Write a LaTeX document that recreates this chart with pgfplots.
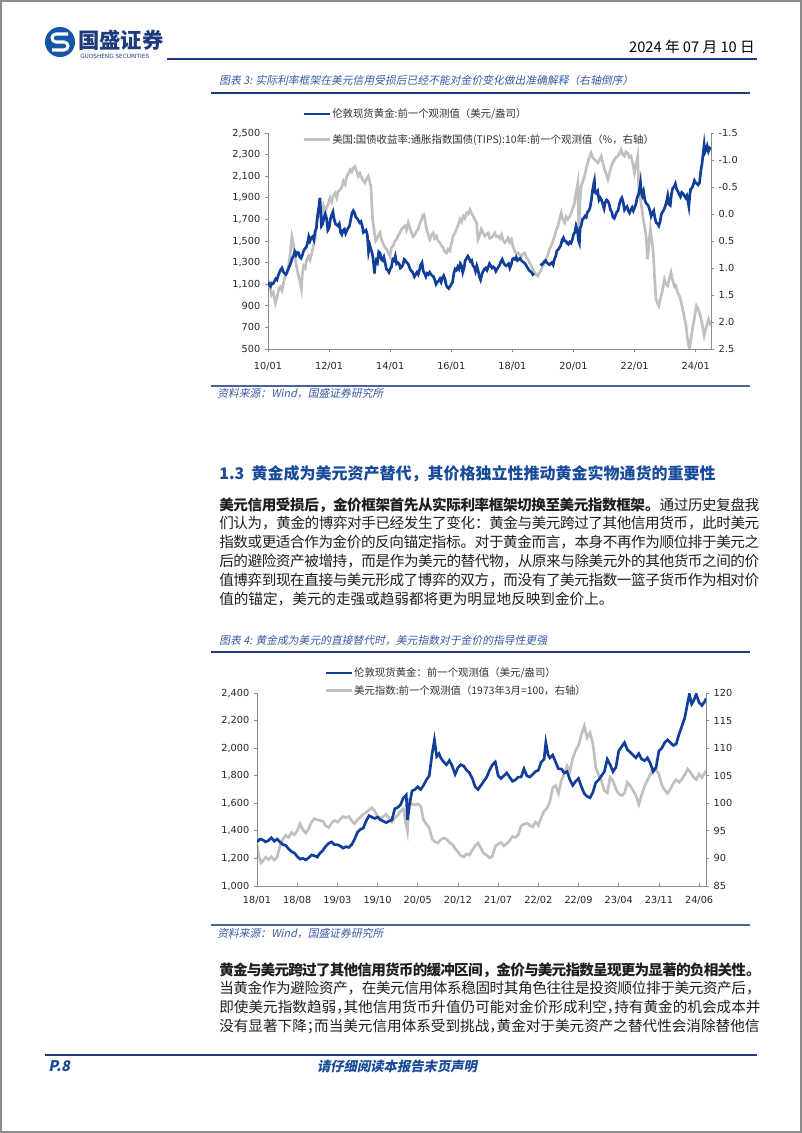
\documentclass[border=0pt]{standalone}
\usepackage{pgfplots}
\pgfplotsset{compat=1.18}
\usepackage{fontspec}
\setmainfont{Noto Sans CJK SC}
\newfontfamily\tickfont{DejaVu Sans}
\newfontfamily\cjkit{Noto Sans CJK SC}[FakeSlant=0.2]
\XeTeXlinebreaklocale "zh"
\XeTeXlinebreakskip=0pt plus 1.5pt minus 0.65pt
\newcommand{\hp}[1]{\hbox to 0.5em{#1\hss}}
\definecolor{gblue}{RGB}{16,62,152}
\definecolor{tgray}{RGB}{192,192,192}
\definecolor{axgray}{RGB}{140,140,140}
\definecolor{navy}{RGB}{30,60,125}
\definecolor{tblue}{RGB}{55,90,165}
\definecolor{hblue}{RGB}{25,75,155}
\definecolor{logoblue}{RGB}{20,85,165}
\pgfplotsset{pgbase/.style={scale only axis,
  axis line style={axgray,line width=0.6pt,-},
  tick style={axgray,line width=0.6pt},
  major tick length=2.25pt, tick align=outside,
  tick label style={font=\tickfont\fontsize{7.3}{8}\selectfont, text=black!85},
  xticklabel style={yshift=-4pt},
  /pgf/number format/assume math mode=true,
  scaled y ticks=false, scaled x ticks=false, clip=true}}
\begin{document}
\begin{tikzpicture}
\useasboundingbox (0pt,0pt) rectangle (601.5pt,-849.75pt);
\begin{scope}[x=0.75pt,y=-0.75pt]
\fill[white] (0,0) rectangle (802,1133);
\draw[black!45,line width=1.4pt] (1,1) rectangle (801,1132);
% logo
\fill[logoblue] (60,42) circle (15);
\draw[white,line width=2.3pt] (68,34) -- (56,34) arc[start angle=270,end angle=90,radius=4] -- (64,42) arc[start angle=270,end angle=450,radius=4] -- (52,50);
\node[anchor=west,font=\bfseries\fontsize{16}{18}\selectfont,text=navy,inner sep=0] at (78,40) {国盛证券};
\node[anchor=west,font=\tickfont\fontsize{4.3}{5}\selectfont,text=navy,inner sep=0] at (80,56) {GUOSHENG SECURITIES};
\node[anchor=base east,font=\fontsize{11}{12}\selectfont,inner sep=0] at (755,52) {2024 年 07 月 10 日};
\draw[navy,line width=1.8pt] (167,59) -- (757,59);
% chart 3 title
\node[anchor=base west,font=\cjkit\fontsize{8.1}{9}\selectfont,text=tblue,inner sep=0] at (219,84) {图表 3: 实际利率框架在美元信用受损后已经不能对金价变化做出准确解释（右轴倒序）};
\draw[navy,line width=1.5pt] (211,92.5) -- (750,92.5);
\draw[navy!80,line width=1.1pt] (211,386) -- (750,386);
\node[anchor=base west,font=\cjkit\fontsize{8.1}{9}\selectfont,text=tblue,inner sep=0] at (217,397) {资料来源：Wind，国盛证券研究所};
% section
\node[anchor=base west,font=\bfseries\fontsize{12}{14}\selectfont,text=hblue,inner sep=0] at (219,479) {1.3\hspace{0.45em}黄金成为美元资产替代，其价格独立性推动黄金实物通货的重要性};
\node[anchor=base west,text width=405pt,align=justify,inner sep=0,text=black!88,font=\fontsize{10.95}{14.1}\selectfont] at (219,510) {\textbf{美元信用受损后，金价框架首先从实际利率框架切换至美元指数框架。}通过历史复盘我\linebreak
们认为，黄金的博弈对手已经发生了变化：黄金与美元跨过了其他信用货币，此时美元\linebreak
指数或更适合作为金价的反向锚定指标。对于黄金而言，本身不再作为顺位排于美元之\linebreak
后的避险资产被增持，而是作为美元的替代物，从原来与除美元外的其他货币之间的价\linebreak
值博弈到现在直接与美元形成了博弈的双方，而没有了美元指数一篮子货币作为相对价\linebreak
值的锚定，美元的走强或趋弱都将更为明显地反映到金价上。};
% chart 4 title
\node[anchor=base west,font=\cjkit\fontsize{8.1}{9}\selectfont,text=tblue,inner sep=0] at (219,644) {图表 4: 黄金成为美元的直接替代时，美元指数对于金价的指导性更强};
\draw[navy,line width=1.5pt] (211,652) -- (750,652);
\draw[navy!80,line width=1.1pt] (211,925) -- (750,925);
\node[anchor=base west,font=\cjkit\fontsize{8.1}{9}\selectfont,text=tblue,inner sep=0] at (217,937) {资料来源：Wind，国盛证券研究所};
\node[anchor=base west,text width=406pt,align=justify,inner sep=0,text=black!88,font=\fontsize{10.95}{14.1}\selectfont] at (219,975) {\textbf{黄金与美元跨过了其他信用货币的缓冲区间，金价与美元指数呈现更为显著的负相关性。}\linebreak
当黄金作为避险资产，在美元信用体系稳固时其角色往往是投资顺位排于美元资产后，\linebreak
即使美元指数趋弱\hp{，}其他信用货币升值仍可能对金价形成利空\hp{，}持有黄金的机会成本并\linebreak
没有显著下降\hp{；}而当美元信用体系受到挑战\hp{，}黄金对于美元资产之替代性会消除替他信};
% footer
\draw[navy,line width=2pt] (45,1055) -- (757,1055);
\node[anchor=base west,font=\cjkit\bfseries\fontsize{11}{12}\selectfont,text=hblue,inner sep=0] at (48,1071) {P.8};
\node[anchor=base,font=\cjkit\bfseries\fontsize{10}{12}\selectfont,text=hblue,inner sep=0] at (397,1071) {请仔细阅读本报告末页声明};
\end{scope}

% ---------------- chart 3 -----------------
\begin{axis}[pgbase, at={(201pt,-261.75pt)}, anchor=south west,
  width=332.25pt, height=162pt, xmin=0, xmax=174, ymin=-1.5, ymax=2.5, y dir=reverse,
  axis y line*=right, axis x line=none,
  ytick={-1.5,-1.0,-0.5,0,0.5,1.0,1.5,2.0,2.5},
  yticklabel style={/pgf/number format/fixed,/pgf/number format/fixed zerofill,/pgf/number format/precision=1}]
\addplot[tgray,line width=2pt] coordinates {(0,1.40)(0.7,1.30)(1.4,1.50)(2.1,1.45)(2.9,1.65)(3.5,1.55)(4.2,1.40)(4.8,1.35)(5.5,1.42)(6.2,1.25)(6.8,1.15)(7.5,1.10)(8.1,0.96)(8.8,0.70)(9.4,0.42)(10.0,0.55)(10.7,0.84)(11.3,1.00)(12.0,1.15)(12.6,1.25)(13.1,1.38)(13.5,1.10)(14.0,0.96)(14.6,1.00)(15.2,0.85)(15.9,0.78)(16.5,0.85)(17.2,0.72)(17.8,0.60)(18.5,0.47)(19.2,0.10)(19.8,0.05)(20.5,-0.02)(21.1,0.08)(21.8,-0.15)(22.4,-0.05)(23.1,-0.12)(23.7,-0.20)(24.4,-0.30)(25.0,-0.22)(25.7,-0.35)(26.4,-0.39)(27.0,-0.30)(27.6,-0.42)(28.3,-0.45)(29.0,-0.50)(29.6,-0.61)(30.3,-0.55)(31.0,-0.70)(31.6,-0.75)(32.3,-0.82)(32.9,-0.78)(33.5,-0.85)(34.2,-0.88)(34.8,-0.80)(35.5,-0.70)(36.1,-0.75)(36.8,-0.67)(37.4,-0.62)(38.1,-0.58)(38.7,-0.65)(39.4,-0.70)(39.9,-0.60)(40.4,-0.52)(40.8,-0.15)(41.1,0.10)(41.5,0.25)(41.8,0.35)(42.3,0.50)(42.7,0.47)(43.3,0.40)(44.0,0.35)(44.6,0.48)(45.3,0.56)(45.9,0.62)(46.6,0.65)(47.2,0.72)(47.9,0.78)(48.5,0.62)(49.2,0.59)(49.8,0.50)(50.5,0.47)(51.1,0.40)(51.8,0.35)(52.5,0.28)(53.1,0.25)(53.8,0.22)(54.4,0.30)(55.1,0.16)(55.7,0.25)(56.4,0.35)(57.0,0.42)(57.7,0.38)(58.3,0.32)(59.0,0.28)(59.6,0.18)(60.3,0.10)(60.8,0.02)(61.3,0.01)(61.8,0.15)(62.3,0.28)(63.0,0.40)(63.6,0.47)(64.3,0.38)(64.9,0.35)(65.5,0.45)(66.2,0.41)(66.8,0.50)(67.5,0.53)(68.1,0.58)(68.8,0.62)(69.4,0.70)(70.1,0.72)(70.7,0.65)(71.4,0.68)(72.0,0.55)(72.7,0.41)(73.4,0.35)(74.1,0.28)(74.7,0.20)(75.4,0.10)(76.0,0.15)(76.7,0.04)(77.3,0.08)(78.0,-0.02)(78.6,0.00)(79.3,-0.08)(79.9,-0.02)(80.6,0.04)(81.2,0.10)(81.9,0.16)(82.5,0.47)(83.1,0.40)(83.8,0.28)(84.5,0.35)(85.2,0.41)(85.8,0.38)(86.5,0.35)(87.1,0.45)(87.8,0.44)(88.4,0.40)(89.1,0.35)(89.7,0.42)(90.4,0.41)(91.0,0.45)(91.7,0.38)(92.3,0.48)(93.0,0.53)(93.6,0.50)(94.3,0.44)(94.9,0.52)(95.6,0.47)(96.2,0.60)(96.9,0.68)(97.5,0.74)(98.2,0.72)(98.8,0.75)(99.5,0.78)(100.1,0.74)(100.8,0.72)(101.4,0.80)(102.1,0.84)(102.7,0.90)(103.4,0.96)(104.0,1.02)(104.7,1.08)(105.3,1.12)(106.0,1.15)(106.7,1.08)(107.4,1.02)(108.0,0.95)(108.7,0.90)(109.3,0.82)(110.0,0.75)(110.6,0.65)(111.3,0.59)(111.9,0.50)(112.6,0.41)(113.2,0.30)(113.9,0.22)(114.5,0.10)(115.2,-0.02)(115.8,0.10)(116.5,0.16)(117.1,0.05)(117.8,0.10)(118.4,0.05)(119.1,-0.02)(119.7,-0.10)(120.4,-0.21)(121.0,-0.40)(121.7,-0.58)(122.1,0.28)(122.5,-0.20)(123.0,-0.52)(123.6,-0.60)(124.3,-0.70)(124.9,-0.82)(125.6,-0.95)(126.2,-1.05)(126.9,-1.13)(127.5,-1.05)(128.2,-1.01)(128.9,-0.98)(129.6,-0.95)(130.2,-1.00)(130.9,-1.07)(131.5,-0.95)(132.2,-0.82)(132.8,-0.75)(133.5,-0.64)(134.1,-0.75)(134.8,-0.88)(135.4,-0.95)(136.1,-1.01)(136.7,-1.05)(137.4,-1.07)(138.0,-1.12)(138.7,-1.19)(139.3,-1.10)(140.0,-1.07)(140.6,-1.15)(141.3,-1.13)(141.9,-1.05)(142.6,-1.07)(143.2,-0.95)(143.9,-0.76)(144.5,-0.90)(145.2,-1.07)(145.6,-0.52)(146.0,-0.35)(146.5,-0.21)(147.0,-0.05)(147.4,0.10)(148.0,0.25)(148.5,0.41)(149.1,0.84)(149.6,0.55)(150.2,0.28)(150.6,0.45)(151.1,0.59)(151.5,0.85)(151.8,1.15)(152.1,1.35)(152.4,1.58)(153.0,1.65)(153.5,1.70)(154.0,1.60)(154.4,1.52)(155.0,1.40)(155.7,1.21)(156.3,1.30)(157.0,1.33)(157.6,1.20)(158.3,1.08)(158.8,1.20)(159.2,1.27)(159.7,1.35)(160.2,1.33)(160.9,1.45)(161.6,1.52)(162.2,1.62)(162.9,1.76)(163.5,1.90)(164.2,2.07)(164.8,2.32)(165.5,2.50)(166.0,2.35)(166.5,2.19)(167.0,2.05)(167.4,1.95)(167.9,1.80)(168.3,1.70)(168.9,1.75)(169.4,1.82)(169.9,1.90)(170.4,2.01)(170.9,2.15)(171.3,2.25)(171.8,2.15)(172.3,2.07)(172.7,2.00)(173.0,1.95)(173.5,2.02)(174.0,2.07)};
\end{axis}
\begin{axis}[pgbase, at={(201pt,-261.75pt)}, anchor=south west,
  width=332.25pt, height=162pt, xmin=0, xmax=174, ymin=500, ymax=2500,
  axis y line*=left, axis x line*=bottom, unbounded coords=jump,
  xtick={0,24,48,72,96,120,144,168},
  xticklabels={10/01,12/01,14/01,16/01,18/01,20/01,22/01,24/01},
  ytick={500,700,900,1100,1300,1500,1700,1900,2100,2300,2500},
  legend style={at={(axis description cs:0.0767,1.12)},anchor=north west,draw=none,fill=none,inner sep=0pt,
    row sep=9pt,font=\fontsize{7.8}{9}\selectfont,text=black!80,nodes={inner sep=1pt}},
  legend cell align=left,
  legend image code/.code={\draw[#1] (0pt,0pt) -- (19.5pt,0pt);}]
\addplot[gblue,line width=2pt] coordinates {(0,1120)(0.5,1095)(1,1080)(1.5,1110)(2,1105)(2.5,1125)(3,1150)(3.5,1140)(4,1180)(4.5,1210)(5,1235)(5.5,1250)(6,1215)(6.5,1200)(7,1190)(7.5,1215)(8,1245)(8.5,1270)(9,1300)(9.5,1340)(10,1360)(10.5,1400)(11,1370)(11.5,1395)(12,1390)(12.5,1350)(13,1340)(13.5,1370)(14,1410)(14.5,1430)(15,1440)(15.5,1480)(16,1540)(16.5,1500)(17,1530)(17.5,1540)(18,1510)(18.5,1590)(19,1620)(19.5,1740)(20,1820)(20.4,1900)(20.7,1780)(21,1640)(21.5,1660)(22,1720)(22.5,1750)(23,1710)(23.5,1600)(24,1620)(24.5,1700)(25,1740)(25.5,1770)(26,1700)(26.5,1660)(27,1650)(27.5,1640)(28,1660)(28.5,1580)(29,1560)(29.5,1600)(30,1610)(30.5,1570)(31,1600)(31.5,1620)(32,1640)(32.5,1700)(33,1760)(33.5,1780)(34,1760)(34.5,1720)(35,1710)(35.5,1690)(36,1670)(36.5,1680)(37,1640)(37.5,1580)(38,1590)(38.5,1600)(39,1560)(39.5,1400)(40,1460)(40.5,1420)(41,1380)(41.5,1290)(41.8,1200)(42,1260)(42.5,1320)(43,1300)(43.5,1400)(44,1390)(44.5,1330)(45,1320)(45.5,1350)(46,1300)(46.5,1240)(47,1230)(47.5,1210)(48,1240)(48.5,1260)(49,1330)(49.5,1320)(50,1360)(50.5,1290)(51,1300)(51.5,1290)(52,1250)(52.5,1260)(53,1280)(53.5,1330)(54,1320)(54.5,1300)(55,1290)(55.5,1260)(56,1230)(56.5,1220)(57,1200)(57.5,1170)(58,1190)(58.5,1210)(59,1190)(59.5,1230)(60,1280)(60.5,1300)(61,1220)(61.5,1200)(62,1170)(62.5,1200)(63,1190)(63.5,1210)(64,1190)(64.5,1180)(65,1170)(65.5,1140)(66,1100)(66.5,1120)(67,1130)(67.5,1150)(68,1120)(68.5,1160)(69,1180)(69.5,1150)(70,1090)(70.5,1070)(71,1060)(71.5,1080)(72,1100)(72.5,1120)(73,1200)(73.5,1240)(74,1230)(74.5,1260)(75,1240)(75.5,1290)(76,1270)(76.5,1210)(77,1250)(77.5,1320)(78,1340)(78.5,1360)(79,1340)(79.5,1310)(80,1320)(80.5,1270)(81,1260)(81.5,1220)(82,1270)(82.5,1230)(83,1170)(83.5,1140)(84,1190)(84.5,1220)(85,1240)(85.5,1250)(86,1230)(86.5,1260)(87,1290)(87.5,1270)(88,1250)(88.5,1260)(89,1250)(89.5,1220)(90,1240)(90.5,1260)(91,1280)(91.5,1310)(92,1330)(92.5,1300)(93,1280)(93.5,1270)(94,1280)(94.5,1290)(95,1250)(95.5,1280)(96,1330)(96.5,1340)(97,1330)(97.5,1350)(98,1320)(98.5,1330)(99,1340)(99.5,1320)(100,1310)(100.5,1300)(101,1290)(101.5,1270)(102,1250)(102.5,1230)(103,1220)(103.5,1210)(104,1190)(104.5,1200)(104.8,nan)(107,1290)(107.5,1280)(108,1290)(108.5,1310)(109,1320)(109.5,1300)(110,1290)(110.5,1280)(111,1290)(111.5,1300)(112,1280)(112.5,1330)(113,1360)(113.5,1410)(114,1420)(114.5,1440)(115,1460)(115.5,1510)(116,1530)(116.5,1500)(117,1500)(117.5,1480)(118,1470)(118.5,1490)(119,1480)(119.5,1510)(120,1560)(120.5,1580)(121,1640)(121.5,1600)(122,1500)(122.3,1480)(122.6,1620)(123,1640)(123.5,1700)(124,1710)(124.5,1730)(125,1720)(125.5,1770)(126,1780)(126.5,1810)(127,1880)(127.5,1970)(128,2040)(128.2,2060)(128.5,1950)(129,1940)(129.5,1960)(130,1880)(130.5,1900)(131,1880)(131.5,1840)(132,1800)(132.5,1860)(133,1880)(133.5,1870)(134,1840)(134.5,1790)(135,1770)(135.5,1720)(136,1710)(136.5,1740)(137,1770)(137.5,1780)(138,1840)(138.5,1880)(139,1900)(139.5,1860)(140,1790)(140.5,1810)(141,1820)(141.5,1780)(142,1760)(142.5,1790)(143,1810)(143.5,1780)(144,1810)(144.5,1840)(145,1900)(145.5,1930)(146,1990)(146.3,2040)(146.6,1950)(147,1920)(147.5,1960)(148,1880)(148.5,1850)(149,1840)(149.5,1820)(150,1780)(150.5,1730)(151,1760)(151.5,1780)(152,1710)(152.5,1670)(153,1660)(153.5,1640)(154,1680)(154.5,1750)(155,1770)(155.5,1790)(156,1820)(156.5,1860)(157,1920)(157.5,1840)(158,1830)(158.5,1940)(159,1990)(159.5,2000)(160,2030)(160.5,1980)(161,1960)(161.5,1930)(162,1910)(162.5,1950)(163,1940)(163.5,1920)(164,1900)(164.5,1920)(165,1860)(165.3,1820)(165.7,1930)(166,1980)(166.5,1990)(167,2020)(167.5,2060)(168,2040)(168.5,2030)(169,2020)(169.5,2040)(170,2150)(170.5,2220)(171,2330)(171.3,2390)(171.6,2320)(172,2340)(172.5,2380)(173,2330)(173.5,2360)(174,2350)};
\addlegendentry{伦敦现货黄金:前一个观测值（美元/盎司）}
\addlegendimage{tgray,line width=2pt}
\addlegendentry{美国:国债收益率:通胀指数国债(TIPS):10年:前一个观测值（\%，右轴）}
\end{axis}

% ---------------- chart 4 -----------------
\begin{axis}[pgbase, at={(192.75pt,-664.5pt)}, anchor=south west,
  width=336.75pt, height=144.75pt, xmin=0, xmax=78.2, ymin=85, ymax=120,
  axis y line*=right, axis x line=none,
  ytick={85,90,95,100,105,110,115,120}]
\addplot[tgray,line width=2pt] coordinates {(0,92.5)(0.3,90.5)(0.7,89.2)(1,89.5)(1.5,90.2)(2,89.8)(2.5,90.3)(3,89.7)(3.5,90.2)(4,92.3)(4.5,93.5)(5,94.2)(5.5,93.8)(6,94.7)(6.5,94.3)(7,95.0)(7.5,96.3)(8,95.2)(8.5,94.6)(9,95.4)(9.5,96.6)(10,97.2)(10.5,97.0)(11,96.9)(11.5,96.7)(12,95.9)(12.5,95.6)(13,96.4)(13.5,96.9)(14,96.6)(14.5,97.1)(15,97.6)(15.5,97.4)(16,97.6)(16.5,96.8)(17,96.3)(17.5,97.0)(18,97.5)(18.5,98.0)(19,98.3)(19.5,98.8)(20,99.2)(20.5,98.6)(21,97.6)(21.5,97.3)(22,97.6)(22.5,98.0)(23,97.2)(23.5,96.6)(24,97.3)(24.5,97.8)(25,98.6)(25.5,99.0)(26,96.0)(26.2,94.9)(26.5,100.4)(27,99.8)(27.5,99.7)(28,99.9)(28.5,99.5)(29,97.0)(29.5,96.2)(30,95.6)(30.5,93.5)(31,93.0)(31.5,92.8)(32,93.4)(32.5,93.7)(33,93.5)(33.5,92.9)(34,92.6)(34.5,91.8)(35,91.2)(35.5,90.5)(36,90.3)(36.5,90.8)(37,90.6)(37.5,91.5)(38,92.3)(38.5,92.8)(39,91.8)(39.5,90.9)(40,90.6)(40.5,90.1)(41,90.4)(41.5,92.2)(42,92.6)(42.5,92.9)(43,92.3)(43.5,92.7)(44,93.2)(44.5,94.0)(45,93.8)(45.5,94.3)(46,95.9)(46.5,96.2)(47,96.4)(47.5,96.0)(48,95.7)(48.5,96.6)(49,96.0)(49.5,97.4)(50,98.6)(50.5,99.1)(51,100.3)(51.5,102.8)(52,103.2)(52.5,101.8)(53,104.1)(53.5,105.3)(54,106.8)(54.5,105.8)(55,108.2)(55.5,109.6)(56,110.5)(56.5,112.5)(57,114.0)(57.5,111.9)(58,112.8)(58.5,110.8)(59,106.5)(59.5,105.1)(60,104.0)(60.5,102.3)(61,101.9)(61.5,104.7)(62,104.1)(62.5,102.6)(63,101.7)(63.5,101.4)(64,101.8)(64.5,103.8)(65,103.2)(65.5,102.3)(66,101.4)(66.5,99.8)(67,101.6)(67.5,103.1)(68,104.2)(68.5,105.2)(69,106.4)(69.5,106.1)(70,105.3)(70.5,103.3)(71,102.4)(71.5,101.8)(72,102.6)(72.5,103.6)(73,104.3)(73.5,103.8)(74,104.4)(74.5,105.2)(75,106.2)(75.5,105.6)(76,104.8)(76.5,104.3)(77,105.3)(77.5,104.7)(78,105.5)(78.2,105.9)};
\end{axis}
\begin{axis}[pgbase, at={(192.75pt,-664.5pt)}, anchor=south west,
  width=336.75pt, height=144.75pt, xmin=0, xmax=78.2, ymin=1000, ymax=2400,
  axis y line*=left, axis x line*=bottom, xtick align=inside,
  xtick={0,7,14,21,28,35,42,49,56,63,70,77},
  xticklabels={18/01,18/08,19/03,19/10,20/05,20/12,21/07,22/02,22/09,23/04,23/11,24/06},
  ytick={1000,1200,1400,1600,1800,2000,2200,2400},
  legend style={at={(axis description cs:0.149,1.14)},anchor=north west,draw=none,fill=none,inner sep=0pt,
    row sep=3pt,font=\fontsize{7.8}{9}\selectfont,text=black!80,nodes={inner sep=1pt}},
  legend cell align=left,
  legend image code/.code={\draw[#1] (0pt,0pt) -- (19.5pt,0pt);}]
\addplot[gblue,line width=2pt] coordinates {(0,1320)(0.5,1340)(1,1335)(1.5,1320)(2,1330)(2.5,1350)(3,1325)(3.5,1340)(4,1320)(4.5,1300)(5,1295)(5.5,1270)(6,1250)(6.5,1240)(7,1215)(7.5,1195)(8,1200)(8.5,1190)(9,1205)(9.5,1225)(10,1220)(10.5,1210)(11,1240)(11.5,1260)(12,1290)(12.5,1310)(13,1320)(13.5,1300)(14,1300)(14.5,1290)(15,1275)(15.5,1285)(16,1280)(16.5,1300)(17,1340)(17.5,1390)(18,1410)(18.5,1420)(19,1470)(19.5,1510)(20,1500)(20.5,1490)(21,1500)(21.5,1480)(22,1470)(22.5,1460)(23,1470)(23.5,1480)(24,1560)(24.5,1570)(25,1590)(25.5,1640)(26,1660)(26.2,1480)(26.6,1600)(27,1690)(27.5,1700)(28,1720)(28.5,1700)(29,1730)(29.5,1770)(30,1800)(30.5,1960)(30.9,2060)(31.3,1940)(31.7,1960)(32,1930)(32.5,1900)(33,1880)(33.5,1910)(34,1870)(34.5,1810)(35,1860)(35.5,1880)(36,1870)(36.5,1840)(37,1820)(37.5,1780)(38,1720)(38.5,1700)(39,1730)(39.5,1760)(40,1790)(40.5,1840)(41,1880)(41.5,1900)(42,1800)(42.5,1780)(43,1800)(43.5,1820)(44,1790)(44.5,1760)(45,1770)(45.5,1790)(46,1790)(46.5,1850)(47,1800)(47.5,1790)(48,1810)(48.5,1830)(49,1840)(49.5,1900)(50,1920)(50.3,2040)(50.7,1950)(51,1930)(51.5,1950)(52,1900)(52.5,1850)(53,1850)(53.5,1820)(54,1830)(54.5,1770)(55,1730)(55.5,1760)(56,1780)(56.5,1720)(57,1670)(57.5,1650)(58,1640)(58.5,1680)(59,1750)(59.5,1770)(60,1800)(60.5,1830)(61,1920)(61.5,1880)(62,1830)(62.5,1860)(63,1980)(63.5,2010)(64,2040)(64.5,1990)(65,1970)(65.5,1950)(66,1930)(66.5,1960)(67,1920)(67.5,1910)(68,1930)(68.5,1890)(69,1830)(69.5,1860)(70,1980)(70.5,2000)(71,2040)(71.5,2060)(72,2040)(72.5,2020)(73,2030)(73.5,2100)(74,2160)(74.5,2220)(75,2330)(75.3,2390)(75.7,2320)(76,2340)(76.5,2390)(77,2330)(77.5,2310)(78,2340)(78.2,2360)};
\addlegendentry{伦敦现货黄金：前一个观测值（美元/盎司）}
\addlegendimage{tgray,line width=2pt}
\addlegendentry{美元指数:前一个观测值（1973年3月=100，右轴）}
\end{axis}
\end{tikzpicture}
\end{document}
